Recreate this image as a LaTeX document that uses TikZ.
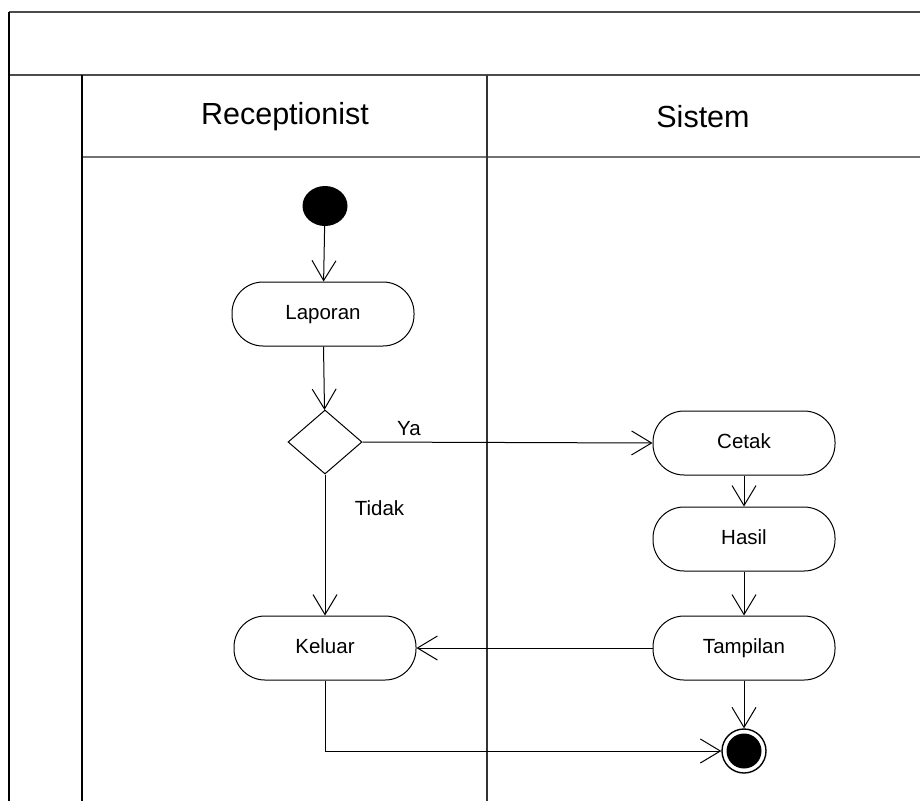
\documentclass[tikz,border=0pt]{standalone}
\usepackage{fontspec}
\setmainfont{Liberation Sans}
\usetikzlibrary{arrows.meta,shapes.geometric}

\tikzset{
    aksi/.style={draw,line width=1pt,rectangle,rounded corners=31pt,
        minimum width=182pt,minimum height=64pt,text height=14pt,text depth=4pt,
        font=\fontsize{20.5}{24}\selectfont},
    keputusan/.style={draw,line width=1pt,diamond,
        minimum width=74pt,minimum height=64pt,inner sep=0pt},
    alur/.style={line width=1pt,-{Straight Barb[length=20pt,width=24pt,line width=1pt]}},
    garis/.style={line width=1.6pt,black!70},
    batas/.style={line width=1.4pt,black}
}

\begin{document}
\begin{tikzpicture}[x=1pt,y=-1pt]
    \useasboundingbox (0,0) rectangle (920,801);

    % Bingkai dan lajur.
    \draw[garis] (9,12) -- (920,12);
    \draw[garis,line width=2.2pt] (9,75) -- (920,75);
    \draw[garis,black!55] (82,157) -- (920,157);
    \draw[batas] (9,12) -- (9,801);
    \draw[batas] (82,75) -- (82,801);
    \draw[batas,black!80] (487,75) -- (487,801);
    \node[font=\fontsize{30.5}{36}\selectfont] (lajur-resepsionis) at (285,117) {Receptionist};
    \node[font=\fontsize{30.5}{36}\selectfont] (lajur-sistem) at (703,117) {Sistem};

    % Simpul.
    \node[ellipse,fill=black,minimum width=45pt,minimum height=40pt,inner sep=0pt]
        (awal) at (325,206) {};
    \node[aksi] (laporan) at (323,314) {Laporan};
    \node[keputusan] (pilih) at (325,442) {};
    \node[aksi] (cetak) at (744,443) {Cetak};
    \node[aksi] (hasil) at (744,539) {Hasil};
    \node[aksi] (tampilan) at (744,648) {Tampilan};
    \node[aksi] (keluar) at (325,648) {Keluar};
    \node[circle,draw,line width=1.4pt,minimum size=44pt,inner sep=0pt]
        (akhir) at (744,751) {};
    \fill (akhir.center) circle (17.5pt);

    % Alur.
    \draw[alur] (awal) -- (laporan);
    \draw[alur] (laporan) -- (pilih);
    \draw[alur] (pilih.east) -- (cetak.west)
        node[pos=0.16,above=3pt,font=\fontsize{20.5}{24}\selectfont] (label-ya) {Ya};
    \draw[alur] (pilih.south) -- (keluar.north)
        node[pos=0.24,right=26pt,font=\fontsize{20.5}{24}\selectfont] (label-tidak) {Tidak};
    \draw[alur] (cetak) -- (hasil);
    \draw[alur] (hasil) -- (tampilan);
    \draw[alur] (tampilan.west) -- (keluar.east);
    \draw[alur] (tampilan) -- (akhir);
    \draw[alur] (keluar.south) |- (akhir.west);
\end{tikzpicture}
\end{document}
